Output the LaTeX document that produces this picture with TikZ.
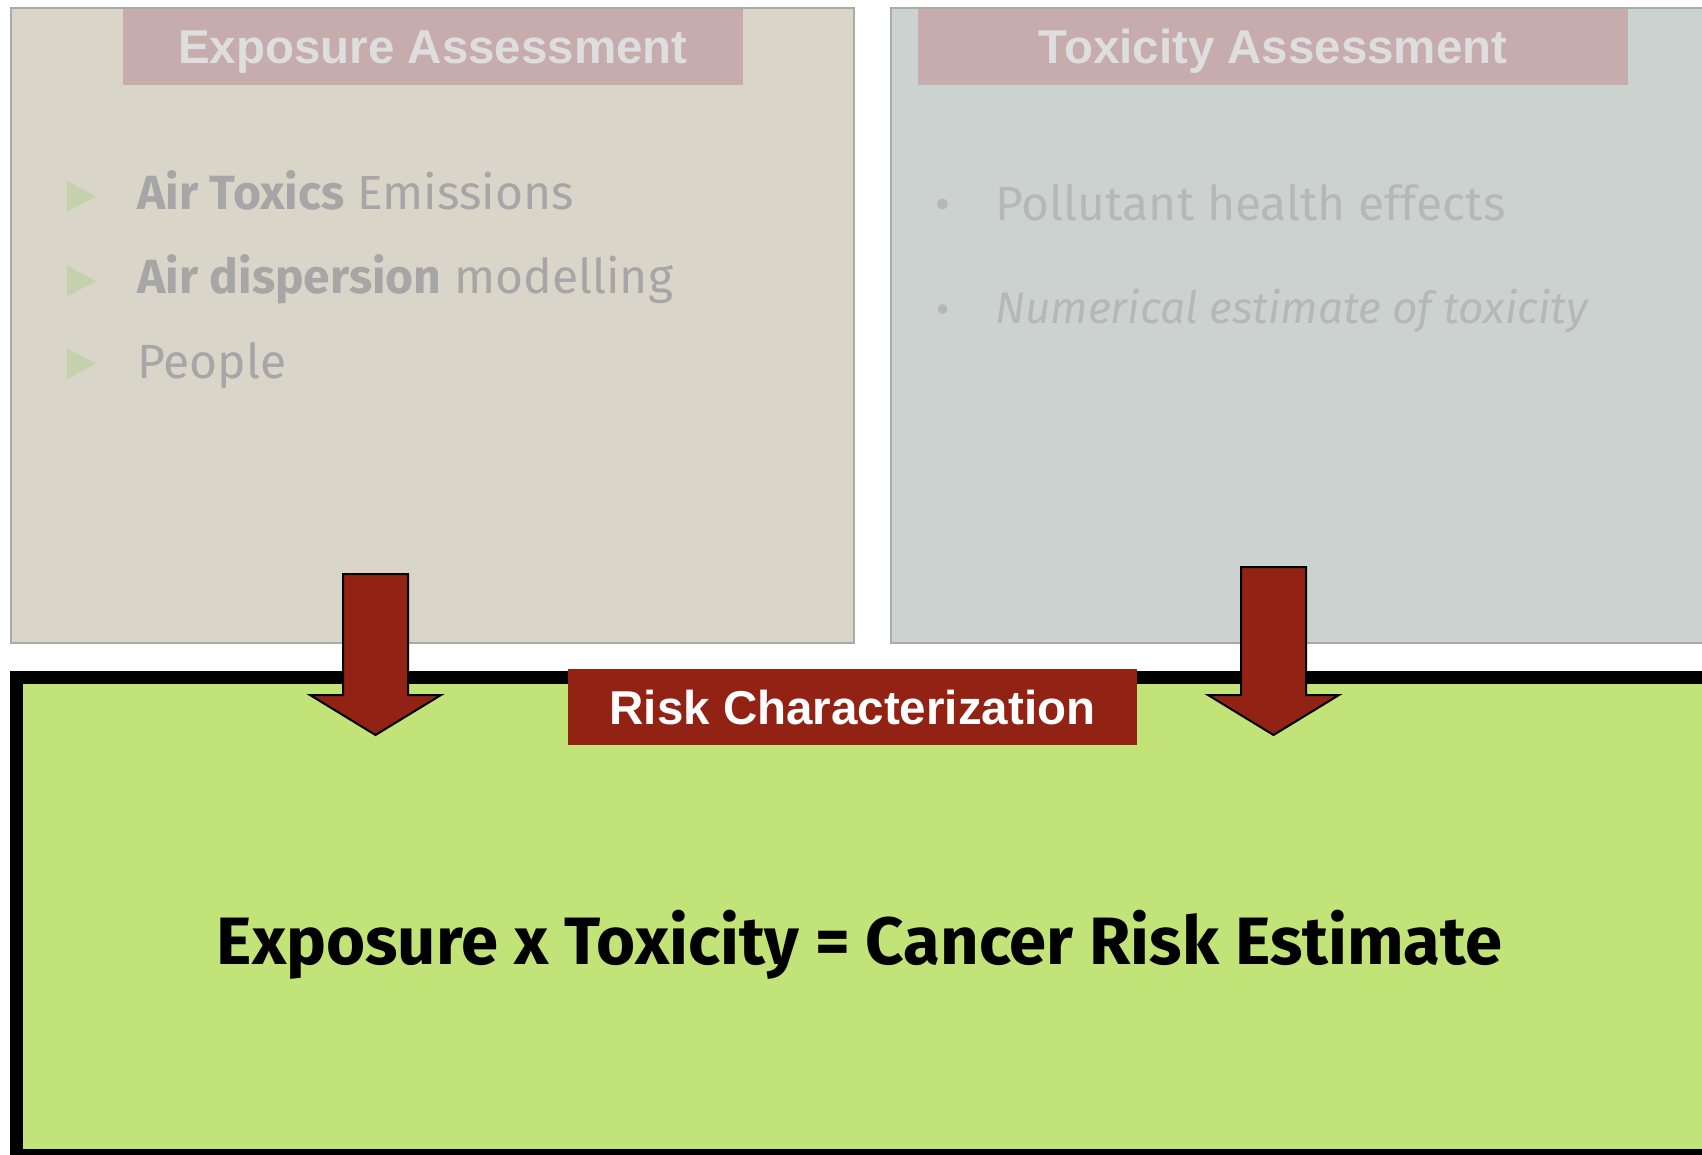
\documentclass[tikz,border=0pt]{standalone}
\usepackage{fontspec}
\newfontfamily\headfont{Liberation Sans}
\newfontfamily\bodyfont{Fira Sans}
\definecolor{exfill}{HTML}{D9D5C9}
\definecolor{txfill}{HTML}{CCD2CF}
\definecolor{panelrule}{HTML}{AAAAAA}
\definecolor{headfill}{HTML}{C6ACAC}
\definecolor{headtext}{HTML}{DEDEDE}
\definecolor{riskred}{HTML}{922314}
\definecolor{riskgreen}{HTML}{C1E377}
\definecolor{leftgray}{HTML}{A6A6A6}
\definecolor{rightgray}{HTML}{B5B8B7}
\definecolor{tri}{HTML}{C5D1AC}
\begin{document}
\begin{tikzpicture}[x=1pt,y=-1pt,
  panel/.style={draw=panelrule,line width=2.5pt},
  header/.style={fill=headfill,inner sep=0pt,minimum height=76pt,text=headtext,
    font=\headfont\bfseries\fontsize{47.5}{57}\selectfont,text height=34pt,text depth=0pt},
  item/.style={anchor=base west,inner sep=0pt,font=\bodyfont\fontsize{48}{58}\selectfont},
  blockarrow/.style={fill=riskred,draw=black,line width=2pt,line join=miter}]
\useasboundingbox (0,0) rectangle (1702,1155);
\clip (0,0) rectangle (1702,1155);
\fill[white] (0,0) rectangle (1702,1155);

% upper panels
\filldraw[panel,fill=exfill] (11,8) rectangle (854,643);
\filldraw[panel,fill=txfill] (891,8) rectangle (1730,643);

\node[header,minimum width=620pt] (exphead) at (433,47) {Exposure Assessment};
\node[header,minimum width=710pt] (toxhead) at (1273,47) {Toxicity Assessment};

% exposure items
\foreach \yc in {196.5,281,363.5}
  \fill[tri] (67,\yc-15.5) -- (96,\yc) -- (67,\yc+15.5) -- cycle;
\node[item,text=leftgray] (e1) at (137,210) {\textbf{Air Toxics} Emissions};
\node[item,text=leftgray] (e2) at (137,294) {\textbf{Air dispersion} modelling};
\node[item,text=leftgray] (e3) at (137,378) {People};

% toxicity items
\node[circle,fill=rightgray,inner sep=0pt,minimum size=11pt] (d1) at (942.5,204) {};
\node[circle,fill=rightgray,inner sep=0pt,minimum size=10pt] (d2) at (942.5,309) {};
\node[item,text=rightgray] (t1) at (995,221) {Pollutant health effects};
\node[item,text=rightgray,font=\bodyfont\itshape\fontsize{44.2}{53}\selectfont] (t2) at (995,324) {Numerical estimate of toxicity};

% risk characterization panel
\filldraw[fill=riskgreen,draw=black,line width=13pt] (16.5,677.5) rectangle (1740,1155.5);
\node[fill=riskred,inner sep=0pt,minimum width=569pt,minimum height=76pt,text=white,
  font=\headfont\bfseries\fontsize{47.5}{57}\selectfont,text height=34pt,text depth=0pt]
  (riskhead) at (852.5,707) {Risk Characterization};

\node[anchor=base,inner sep=0pt,font=\bodyfont\bfseries\fontsize{67}{80}\selectfont]
  (formula) at (859.5,964) {Exposure x Toxicity = Cancer Risk Estimate};

% block arrows into the risk panel
\filldraw[blockarrow] (343,574) -- (408,574) -- (408,695) -- (441,695) -- (375.5,735)
  -- (310,695) -- (343,695) -- cycle;
\filldraw[blockarrow] (1241,567) -- (1306,567) -- (1306,695) -- (1339,695) -- (1273.5,735)
  -- (1208,695) -- (1241,695) -- cycle;
\end{tikzpicture}
\end{document}
